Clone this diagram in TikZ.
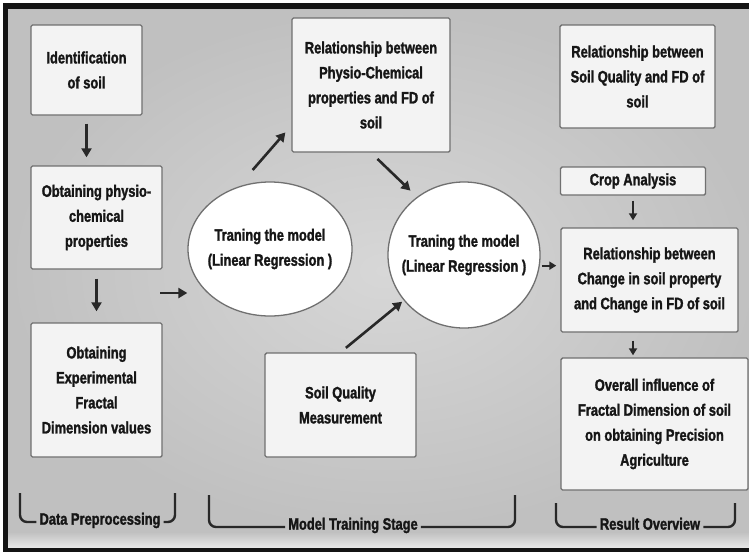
\documentclass[tikz,border=0pt]{standalone}
\usepackage{fontspec}
\setmainfont{Liberation Sans}[FakeStretch=0.78, BoldFeatures={FakeBold=1.6}]
\usetikzlibrary{shapes.geometric,arrows.meta}

\newcommand{\lbl}{\fontsize{16.5}{25}\selectfont\bfseries}

\tikzset{
    stepbox/.style={draw=myedge, line width=1.4pt, fill=myboxfill, rounded corners=1.5pt,
        align=center, inner sep=2pt, font=\lbl, text=mytext},
    trainell/.style={ellipse, draw=myedge, line width=1.3pt, fill=white,
        align=center, inner sep=-10pt, font=\lbl, text=mytext},
    flow/.style={-{Triangle[length=9pt,width=10pt]}, line width=2.6pt, draw=myarrow},
    smallflow/.style={-{Triangle[length=7pt,width=8pt]}, line width=2pt, draw=myarrow},
    brace/.style={line width=2.4pt, draw=myarrow, rounded corners=7pt},
    stagelbl/.style={font=\lbl, text=mytext, inner sep=3pt, anchor=mid},
}

\begin{document}
\begin{tikzpicture}[x=1pt,y=-1pt]
    \definecolor{myframe}{RGB}{20,20,20}
    \definecolor{mybgout}{RGB}{192,192,192}
    \definecolor{mybgin}{RGB}{215,215,215}
    \definecolor{myband}{RGB}{230,230,230}
    \definecolor{myedge}{RGB}{112,112,112}
    \definecolor{myboxfill}{RGB}{243,243,243}
    \definecolor{myarrow}{RGB}{40,40,40}
    \definecolor{mytext}{RGB}{22,22,22}

    \useasboundingbox (0,0) rectangle (749,552);
    \fill[white] (0,0) rectangle (749,552);

    % frame and panel
    \fill[myframe] (3,3) rectangle (760,552);
    \shade[inner color=mybgin, outer color=mybgout] (8,9) rectangle (760,532);
    \shade[top color=mybgout, bottom color=myband] (8,532) rectangle (760,547);

    % data preprocessing column
    \node[stepbox, minimum width=111pt, minimum height=90pt] (ident) at (86.5,70)
        {Identification\\of soil};
    \node[stepbox, minimum width=131pt, minimum height=103pt] (phys) at (96.5,217.5)
        {Obtaining physio-\\chemical\\properties};
    \node[stepbox, minimum width=131pt, minimum height=134pt] (expfd) at (96.5,390)
        {Obtaining\\Experimental\\Fractal\\Dimension values};

    % model training column
    \node[stepbox, minimum width=158pt, minimum height=134pt] (relpc) at (371,85)
        {Relationship between\\Physio-Chemical\\properties and FD of\\soil};
    \node[trainell, minimum width=164pt, minimum height=134pt] (train1) at (270,249)
        {Traning the model\\(Linear Regression )};
    \node[trainell, minimum width=152pt, minimum height=146pt] (train2) at (464,255)
        {Traning the model\\(Linear Regression )};
    \node[stepbox, minimum width=151pt, minimum height=104pt] (sqm) at (340.5,405)
        {Soil Quality\\Measurement};

    % result column
    \node[stepbox, minimum width=155pt, minimum height=103pt] (relsq) at (637.5,76.5)
        {Relationship between\\Soil Quality and FD of\\soil};
    \node[stepbox, minimum width=145pt, minimum height=28pt] (crop) at (633,181)
        {Crop Analysis};
    \node[stepbox, minimum width=177pt, minimum height=104pt] (relch) at (649.5,280)
        {Relationship between\\Change in soil property\\and Change in FD of soil};
    \node[stepbox, minimum width=187pt, minimum height=132pt] (overall) at (654.5,424)
        {Overall influence of\\Fractal Dimension of soil\\on obtaining Precision\\Agriculture};

    % arrows
    \coordinate (prep) at (160,293);
    \draw[flow, shorten <=8pt, shorten >=8pt] (ident.south) -- (ident.south |- phys.north);
    \draw[flow, shorten <=9pt, shorten >=11pt] (phys.south) -- (expfd.north);
    \draw[flow] (prep) -- (prep -| train1.west);
    \draw[flow, shorten <=22pt, shorten >=9pt] (train1.117) -- (relpc.207);
    \draw[flow, shorten <=9pt, shorten >=9pt] (relpc.south) -- (train2.129);
    \draw[flow, shorten <=7pt, shorten >=2pt] (sqm.north) -- (train2.217);
    \draw[smallflow, shorten <=2pt, shorten >=4pt] (train2.-8) -- (train2.-8 -| relch.west);
    \draw[smallflow, shorten <=5pt, shorten >=7pt] (crop.south) -- (crop.south |- relch.north);
    \draw[smallflow, shorten <=8pt, shorten >=2pt] (crop.south |- relch.south) -- (crop.south |- overall.north);

    % stage brackets
    \node[stagelbl] (lblprep) at (100,522) {Data Preprocessing};
    \draw[brace] (lblprep.mid west) -| (20,493);
    \draw[brace] (lblprep.mid east) -| (175,493);

    \node[stagelbl] (lbltrain) at (353,527) {Model Training Stage};
    \draw[brace] (lbltrain.mid west) -| (209,495);
    \draw[brace] (lbltrain.mid east) -| (515,495);

    \node[stagelbl] (lblresult) at (650,527) {Result Overview};
    \draw[brace] (lblresult.mid west) -| (556,503);
    \draw[brace] (lblresult.mid east) -| (735,503);
\end{tikzpicture}
\end{document}
